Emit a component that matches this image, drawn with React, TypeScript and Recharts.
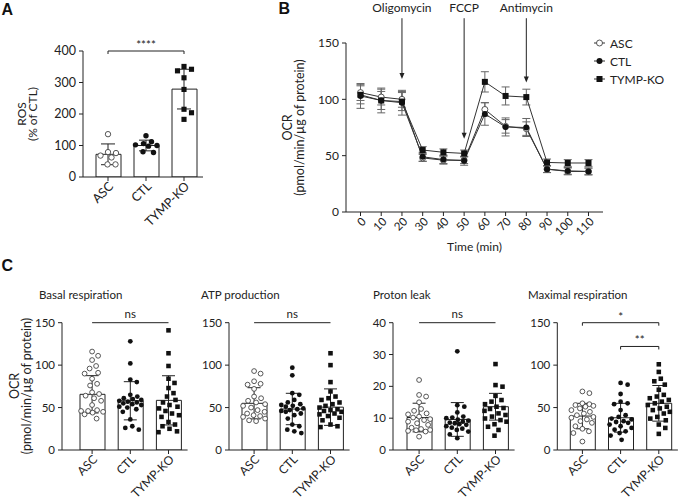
import React from 'react';
import {
  ComposedChart,
  Bar,
  Scatter,
  Line,
  XAxis,
  YAxis,
  ErrorBar,
  ReferenceLine,
  Legend,
} from 'recharts';

const FONT = 'Lato, "Open Sans", sans-serif';
const INK = '#222';

const groupNames = ['ASC', 'CTL', 'TYMP-KO'];

// ---------- Panel A: ROS (% of CTL)
const rosAsc = [136, 79, 76, 68, 62, 40, 40];
const rosCtl = [131, 112, 106, 102, 100, 98, 80, 78];
const rosKo = [351, 342, 337, 315, 278, 215, 204, 183];
const rosMean = [72, 100, 279];
const rosSd = [33, 17, 63];
const rosTicks = [0, 100, 200, 300, 400];

// ---------- Panel B: OCR time course
const timeMin = [0, 10, 20, 30, 40, 50, 60, 70, 80, 90, 100, 110];
const ocrAsc = [106, 102, 100, 48, 46, 46, 91, 76, 74, 38, 36, 36];
const ocrAscErr = [7, 7, 7, 3, 3, 3, 6, 6, 6, 3, 3, 3];
const ocrCtl = [103, 99, 97, 49, 46.5, 45.5, 87, 75.5, 75, 38, 36.5, 36];
const ocrCtlErr = [11, 11, 11, 4, 4, 4, 10, 8, 8, 3, 3, 3];
const ocrKo = [104, 99, 98, 55, 53, 52, 115.5, 103, 102, 44, 43.5, 43.5];
const ocrKoErr = [8, 8, 8, 3, 3, 3, 9, 8, 7, 3, 3, 3];
const ocrTicks = [0, 50, 100, 150];
const injectionNames = ['Oligomycin', 'FCCP', 'Antimycin'];
const injectionTimes = [20, 50, 80];
const injectionFrom = [172, 172, 172];
const injectionTo = [118, 65, 115];

// ---------- Panel C
const basalAsc = [116, 111, 106, 99, 96, 91, 90, 84, 78, 76, 68, 66, 64, 61, 58, 53, 47, 46, 46, 45, 44, 42, 37];
const basalCtl = [128, 102, 83, 80, 65, 63, 61, 60, 59, 58, 57, 56, 55, 54, 53, 51, 50, 48, 45, 36, 28, 26, 24];
const basalKo = [141, 114, 99, 84, 79, 73, 67, 63, 59, 56, 53, 51, 49, 46, 43, 41, 39, 33, 30, 28, 25, 22, 21];
const basalMean = [65.6, 58, 58.5];
const basalSd = [22, 22.5, 29];

const atpAsc = [93, 90, 81, 78, 77, 72, 63, 61, 58, 56, 54, 52, 50, 47, 45, 43, 41, 40, 39, 37, 35, 34];
const atpCtl = [97, 88, 67, 65, 59, 56, 54, 53, 52, 51, 49, 48, 47, 46, 45, 43, 41, 37, 30, 28, 24, 22, 20];
const atpKo = [114, 100, 80, 69, 63, 61, 59, 56, 54, 52, 50, 48, 47, 46, 45, 43, 42, 40, 38, 35, 30, 28, 27];
const atpMean = [55, 48.3, 50.5];
const atpSd = [18.4, 18.5, 21.5];

const leakAsc = [22, 17.3, 16.8, 15, 12.9, 12.3, 11.5, 11.2, 10.5, 10.2, 9.7, 9.4, 8.9, 8.4, 7.9, 7, 6.6, 6.3, 6.2, 6, 5.8, 4.2];
const leakCtl = [31, 14.1, 13.6, 11.8, 10.5, 10.2, 10, 9.5, 9.2, 8.9, 8.6, 8.4, 8.1, 7.9, 7.5, 7, 6.7, 6.3, 5.8, 4.9, 3.7];
const leakKo = [27, 20.4, 19.9, 17, 15.7, 15.2, 14.4, 13.6, 13.2, 12.9, 12.3, 11.5, 11, 10.5, 9.9, 9.4, 8.9, 8.1, 7.3, 6.3, 4.5];
const leakMean = [10.2, 9.6, 13.6];
const leakSd = [4.5, 5.3, 4.2];

const maxAsc = [69, 67, 55, 54, 53, 52, 51, 49, 47, 45, 43, 41, 39, 38, 36, 34, 32, 28, 25, 22, 20, 10];
const maxCtl = [79, 77, 66, 57, 55, 54, 47, 41, 39, 37, 36, 34, 33, 32, 30, 28, 26, 24, 22, 20, 17, 12];
const maxKo = [101, 92, 84, 81, 77, 71, 65, 63, 61, 59, 57, 55, 53, 51, 49, 47, 45, 43, 39, 37, 35, 30, 26, 19];
const maxMean = [40, 38, 55];
const maxSd = [15, 17, 21];

const ticks150 = [0, 50, 100, 150];
const ticks40 = [0, 10, 20, 30, 40];

// ---------- helpers
function swarm(vals: number[], pxPerVal: number, dot: number, band: number, maxOff: number): number[] {
  const order = vals.map((_, i) => i).sort((a, b) => vals[b] - vals[a]);
  const placed: { x: number; y: number }[] = [];
  const res = vals.map(() => 0);
  for (const i of order) {
    const y = vals[i] * pxPerVal;
    let best = 0;
    let bestD = -1;
    for (let k = 0; k < 400; k++) {
      const mag = Math.ceil(k / 2) * 0.5;
      if (mag > maxOff) break;
      const x = k % 2 === 1 ? mag : -mag;
      let dmin = Infinity;
      for (const p of placed) {
        const d = Math.hypot(p.x - x, p.y - y);
        if (d < dmin) dmin = d;
      }
      if (dmin >= dot) {
        best = x;
        bestD = dmin;
        break;
      }
      if (dmin > bestD) {
        bestD = dmin;
        best = x;
      }
    }
    placed.push({ x: best, y });
    res[i] = best / band;
  }
  return res;
}

const openDot = (r: number) => (p: any) => (
  <circle cx={p.cx} cy={p.cy} r={r} fill="#fff" stroke="#444" strokeWidth={0.9} />
);
const fillDot = (r: number) => (p: any) => <circle cx={p.cx} cy={p.cy} r={r} fill="#111" />;
const squareDot = (r: number) => (p: any) => (
  <rect x={p.cx - r} y={p.cy - r} width={2 * r} height={2 * r} fill="#111" />
);
const noDot = () => <g />;

const RotTick = (props: any) => {
  const { x, y, payload, fs } = props;
  const ax = x + 3;
  const ay = y + 1;
  return (
    <text
      x={ax}
      y={ay}
      transform={`rotate(-45 ${ax} ${ay})`}
      textAnchor="end"
      dominantBaseline="central"
      fontSize={fs}
      fill={INK}
      fontFamily={FONT}
    >
      {payload.value}
    </text>
  );
};

const sigShape = (text: string, ends: boolean, lift: number, fs: number) => (p: any) => {
  const { x1, y1, x2, y2 } = p;
  return (
    <g>
      <line x1={x1} y1={y1} x2={x2} y2={y2} stroke={INK} strokeWidth={1} />
      {ends ? <line x1={x1} y1={y1} x2={x1} y2={y1 + 3} stroke={INK} strokeWidth={1} /> : null}
      {ends ? <line x1={x2} y1={y2} x2={x2} y2={y2 + 3} stroke={INK} strokeWidth={1} /> : null}
      <text x={(x1 + x2) / 2} y={y1 - lift} textAnchor="middle" fontSize={fs} fill={INK} fontFamily={FONT}>
        {text}
      </text>
    </g>
  );
};

const arrowShape = (name: string) => (p: any) => {
  const { x1, y1, y2 } = p;
  const top = Math.min(y1, y2);
  const bot = Math.max(y1, y2);
  return (
    <g>
      <line x1={x1} y1={top} x2={x1} y2={bot - 4} stroke={INK} strokeWidth={1} />
      <polygon points={`${x1 - 2.5},${bot - 6} ${x1 + 2.5},${bot - 6} ${x1},${bot}`} fill={INK} />
      <text x={x1} y={top - 6} textAnchor="middle" fontSize={12} fill={INK} fontFamily={FONT}>
        {name}
      </text>
    </g>
  );
};

type SigDef = { from: string; to: string; y: number; text: string; ends: boolean; lift: number };

function BarPanel(props: {
  left: number;
  top: number;
  width: number;
  height: number;
  axisX: number;
  padL: number;
  band: number;
  plotTop: number;
  plotBottom: number;
  yMax: number;
  ticks: number[];
  means: number[];
  sds: number[];
  points: number[][];
  sigs: SigDef[];
  r: number;
  tickFont: number;
  xFont: number;
  capW: number;
}) {
  const { left, top, width, height, axisX, padL, band, plotTop, plotBottom, yMax, ticks, means, sds, points, sigs, r, tickFont, xFont, capW } = props;
  const data = groupNames.map((name, i) => ({ name, mean: means[i], sd: sds[i] }));
  const meanPts = groupNames.map((_, i) => ({ x: i, y: means[i], sd: sds[i] }));
  const pxPerVal = (plotBottom - plotTop) / yMax;
  const shapes = [openDot(r), fillDot(r), squareDot(r * 0.95)];
  const ptsData = points.map((vals, g) => {
    const off = swarm(vals, pxPerVal, r * 2.9, band, band * 0.3);
    return vals.map((v, j) => ({ x: g + off[j], y: v }));
  });
  const plotW = 3 * band;
  const margin = {
    top: plotTop - top,
    left: 0,
    bottom: 0,
    right: width - (axisX - left) - padL - plotW,
  };
  return (
    <div style={{ position: 'absolute', left, top }}>
      <ComposedChart width={width} height={height} data={data} margin={margin}>
        <XAxis
          dataKey="name"
          type="category"
          height={top + height - plotBottom}
          padding={{ left: padL, right: 0 }}
          tickSize={4}
          tickMargin={2}
          interval={0}
          tick={(p: any) => <RotTick {...p} fs={xFont} />}
          axisLine={{ stroke: INK }}
          tickLine={{ stroke: INK }}
        />
        <XAxis
          xAxisId="n"
          type="number"
          dataKey="x"
          domain={[-0.5, 2.5]}
          allowDataOverflow
          hide
          padding={{ left: padL, right: 0 }}
        />
        <YAxis
          type="number"
          width={axisX - left}
          domain={[0, yMax]}
          ticks={ticks}
          allowDataOverflow
          interval={0}
          tickSize={4}
          tickMargin={3}
          tick={{ fontSize: tickFont, fill: INK }}
          axisLine={{ stroke: INK }}
          tickLine={{ stroke: INK }}
        />
        <Bar dataKey="mean" fill="#fff" stroke={INK} strokeWidth={1} barSize={25} isAnimationActive={false} />
        {ptsData.map((d, g) => (
          <Scatter key={g} data={d} dataKey="y" xAxisId="n" shape={shapes[g]} isAnimationActive={false} />
        ))}
        <Scatter data={meanPts} dataKey="y" xAxisId="n" shape={noDot} isAnimationActive={false}>
          <ErrorBar dataKey="sd" direction="y" width={capW} stroke={INK} strokeWidth={1} />
        </Scatter>
        {sigs.map((s, i) => (
          <ReferenceLine
            key={i}
            segment={[
              { x: s.from, y: s.y },
              { x: s.to, y: s.y },
            ]}
            ifOverflow="visible"
            shape={sigShape(s.text, s.ends, s.lift, 11.5)}
          />
        ))}
      </ComposedChart>
    </div>
  );
}

const bData = timeMin.map((t, i) => ({
  t,
  asc: ocrAsc[i],
  ascErr: ocrAscErr[i],
  ctl: ocrCtl[i],
  ctlErr: ocrCtlErr[i],
  ko: ocrKo[i],
  koErr: ocrKoErr[i],
}));

const legendMarker: Record<string, (p: any) => React.ReactElement> = {
  ASC: openDot(3),
  CTL: fillDot(3),
  'TYMP-KO': squareDot(3),
};

const LegendBox = (props: any) => (
  <div style={{ fontFamily: FONT, fontSize: 12, color: INK }}>
    {(props.payload || []).map((e: any, i: number) => (
      <div key={i} style={{ display: 'flex', alignItems: 'center', height: 18 }}>
        <svg width={11} height={10} style={{ marginRight: 5, overflow: 'visible' }}>
          <line x1={0} y1={5} x2={11} y2={5} stroke="#333" strokeWidth={1} />
          {legendMarker[e.value]({ cx: 5.5, cy: 5 })}
        </svg>
        <span>{e.value}</span>
      </div>
    ))}
  </div>
);

function PanelB() {
  return (
    <div style={{ position: 'absolute', left: 240, top: 0 }}>
      <ComposedChart width={445} height={254} data={bData} margin={{ top: 43, right: 82, bottom: 0, left: 0 }}>
        <XAxis
          dataKey="t"
          type="number"
          domain={[-7, 117]}
          ticks={timeMin}
          interval={0}
          height={42}
          tickSize={4}
          tickMargin={2}
          tick={(p: any) => <RotTick {...p} fs={11.5} />}
          axisLine={{ stroke: INK }}
          tickLine={{ stroke: INK }}
          label={{ value: 'Time (min)', position: 'insideBottom', offset: 3, fontSize: 12, fill: INK }}
        />
        <YAxis
          type="number"
          width={106}
          domain={[0, 150]}
          ticks={ocrTicks}
          interval={0}
          tickSize={4}
          tickMargin={3}
          tick={{ fontSize: 12, fill: INK }}
          axisLine={{ stroke: INK }}
          tickLine={{ stroke: INK }}
        />
        {injectionNames.map((name, i) => (
          <ReferenceLine
            key={name}
            segment={[
              { x: injectionTimes[i], y: injectionFrom[i] },
              { x: injectionTimes[i], y: injectionTo[i] },
            ]}
            ifOverflow="visible"
            shape={arrowShape(name)}
          />
        ))}
        <Line
          dataKey="asc"
          name="ASC"
          stroke="#333"
          strokeWidth={1}
          isAnimationActive={false}
          dot={(p: any) => <g key={`a${p.index}`}>{openDot(3)(p)}</g>}
        >
          <ErrorBar dataKey="ascErr" direction="y" width={4} stroke="#666" strokeWidth={1} />
        </Line>
        <Line
          dataKey="ctl"
          name="CTL"
          stroke="#333"
          strokeWidth={1}
          isAnimationActive={false}
          dot={(p: any) => <g key={`c${p.index}`}>{fillDot(3)(p)}</g>}
        >
          <ErrorBar dataKey="ctlErr" direction="y" width={4} stroke="#666" strokeWidth={1} />
        </Line>
        <Line
          dataKey="ko"
          name="TYMP-KO"
          stroke="#333"
          strokeWidth={1}
          isAnimationActive={false}
          dot={(p: any) => <g key={`k${p.index}`}>{squareDot(3)(p)}</g>}
        >
          <ErrorBar dataKey="koErr" direction="y" width={4} stroke="#666" strokeWidth={1} />
        </Line>
        <Legend
          layout="horizontal"
          align="center"
          verticalAlign="middle"
          wrapperStyle={{ position: 'absolute', left: 354, top: 34, width: 90, height: 'auto' }}
          content={LegendBox}
        />
      </ComposedChart>
    </div>
  );
}

function VText({ x, y, children, fs }: { x: number; y: number; children: React.ReactNode; fs: number }) {
  return (
    <text
      transform={`translate(${x},${y}) rotate(-90)`}
      textAnchor="middle"
      dominantBaseline="central"
      fontSize={fs}
      fill={INK}
      fontFamily={FONT}
    >
      {children}
    </text>
  );
}

export default function App() {
  const cTop = 300;
  const cH = 203;
  const cPlotTop = 322.7;
  const cPlotBottom = 450;
  return (
    <div
      style={{
        position: 'absolute',
        left: 0,
        top: 0,
        width: 685,
        height: 503,
        background: '#fff',
        fontFamily: FONT,
        overflow: 'hidden',
      }}
    >
      <BarPanel
        left={0}
        top={0}
        width={215}
        height={240}
        axisX={83}
        padL={6}
        band={38}
        plotTop={51}
        plotBottom={177}
        yMax={400}
        ticks={rosTicks}
        means={rosMean}
        sds={rosSd}
        points={[rosAsc, rosCtl, rosKo]}
        sigs={[{ from: 'ASC', to: 'TYMP-KO', y: 400, text: '****', ends: true, lift: 2 }]}
        r={2.7}
        tickFont={12.5}
        xFont={12.5}
        capW={7}
      />
      <PanelB />
      <BarPanel
        left={0}
        top={cTop}
        width={200}
        height={cH}
        axisX={62}
        padL={11}
        band={38.2}
        plotTop={cPlotTop}
        plotBottom={cPlotBottom}
        yMax={150}
        ticks={ticks150}
        means={basalMean}
        sds={basalSd}
        points={[basalAsc, basalCtl, basalKo]}
        sigs={[{ from: 'ASC', to: 'TYMP-KO', y: 150, text: 'ns', ends: false, lift: 5 }]}
        r={2.4}
        tickFont={11.5}
        xFont={12}
        capW={6.5}
      />
      <BarPanel
        left={170}
        top={cTop}
        width={185}
        height={cH}
        axisX={229}
        padL={6}
        band={38.2}
        plotTop={cPlotTop}
        plotBottom={cPlotBottom}
        yMax={150}
        ticks={ticks150}
        means={atpMean}
        sds={atpSd}
        points={[atpAsc, atpCtl, atpKo]}
        sigs={[{ from: 'ASC', to: 'TYMP-KO', y: 150, text: 'ns', ends: false, lift: 5 }]}
        r={2.4}
        tickFont={11.5}
        xFont={12}
        capW={6.5}
      />
      <BarPanel
        left={335}
        top={cTop}
        width={185}
        height={cH}
        axisX={393}
        padL={7}
        band={38.2}
        plotTop={cPlotTop}
        plotBottom={cPlotBottom}
        yMax={40}
        ticks={ticks40}
        means={leakMean}
        sds={leakSd}
        points={[leakAsc, leakCtl, leakKo]}
        sigs={[{ from: 'ASC', to: 'TYMP-KO', y: 40, text: 'ns', ends: false, lift: 5 }]}
        r={2.4}
        tickFont={11.5}
        xFont={12}
        capW={6.5}
      />
      <BarPanel
        left={500}
        top={cTop}
        width={185}
        height={cH}
        axisX={557.3}
        padL={6}
        band={38.2}
        plotTop={cPlotTop}
        plotBottom={cPlotBottom}
        yMax={150}
        ticks={ticks150}
        means={maxMean}
        sds={maxSd}
        points={[maxAsc, maxCtl, maxKo]}
        sigs={[
          { from: 'ASC', to: 'TYMP-KO', y: 150, text: '*', ends: true, lift: 2 },
          { from: 'CTL', to: 'TYMP-KO', y: 122, text: '**', ends: true, lift: 2 },
        ]}
        r={2.4}
        tickFont={11.5}
        xFont={12}
        capW={6.5}
      />
      <svg
        width={685}
        height={503}
        style={{ position: 'absolute', left: 0, top: 0, pointerEvents: 'none', zIndex: 5 }}
      >
        <g fontFamily='"Liberation Sans", Arial, sans-serif' fontWeight="bold" fontSize={16} fill="#111">
          <text x={1.5} y={14.5}>A</text>
          <text x={278.5} y={14}>B</text>
          <text x={1.5} y={270.5}>C</text>
        </g>
        <VText x={21.5} y={114} fs={12}>ROS</VText>
        <VText x={32.5} y={114} fs={12}>(% of CTL)</VText>
        <VText x={287} y={127.5} fs={12.5}>OCR</VText>
        <VText x={299.5} y={127.5} fs={12.5}>(pmol/min/µg of protein)</VText>
        <VText x={14} y={386} fs={12.5}>OCR</VText>
        <VText x={26} y={386} fs={12.5}>(pmol/min/µg of protein)</VText>
        <g fontFamily={FONT} fontSize={11.5} fill={INK}>
          <text x={39} y={298.5}>Basal respiration</text>
          <text x={201} y={298.5}>ATP production</text>
          <text x={373} y={298.5}>Proton leak</text>
          <text x={528} y={298.5}>Maximal respiration</text>
        </g>
      </svg>
    </div>
  );
}
